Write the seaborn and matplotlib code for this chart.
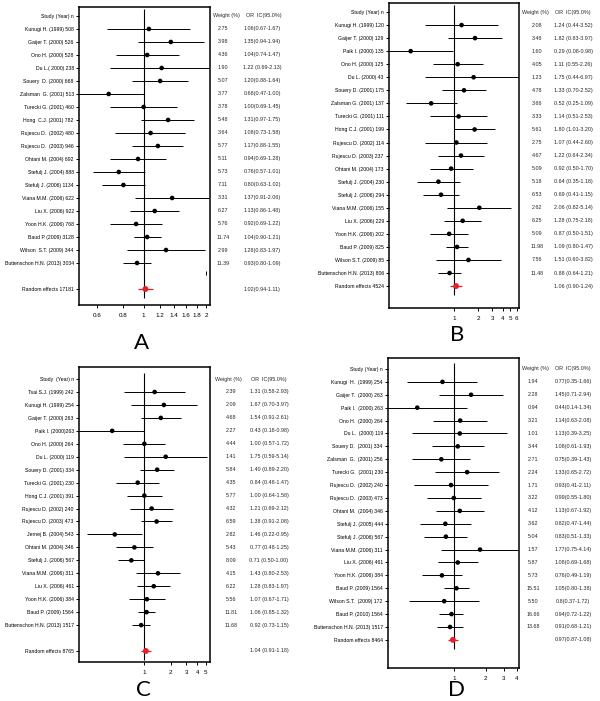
import pandas as pd
import matplotlib
matplotlib.use("Agg")
import matplotlib.pyplot as plt
import matplotlib.ticker as mticker
import matplotlib.transforms as mtrans
import seaborn as sns

sns.set_theme(style="ticks")
plt.rcParams['font.family'] = ['Liberation Sans', 'DejaVu Sans']

# ---------------- Panel A data ----------------
a_studies = ["Kunugi H. (1999) 508", "Gaijer T. (2000) 526", "Ono H. (2000) 528", "Du L.( 2000) 238",
             "Souery  D. (2000) 668", "Zalsman  G. (2001) 513", "Turecki G. (2001) 460", "Hong  C.J. (2001) 782",
             "Rujescu D.  (2002) 480", "Rujescu D.  (2003) 946", "Ohtani M. (2004) 692", "Stefulj J. (2004) 888",
             "Stefulj J. (2006) 1134", "Viana M.M. (2006) 622", "Liu X. (2006) 922", "Yoon H.K. (2006) 768",
             "Baud P (2009) 3128", "Wilson  S.T. (2009) 344", "Buttenschon H.N. (2013) 3034"]
a_weight = ["2.75", "3.98", "4.36", "1.90", "5.07", "3.77", "3.78", "5.48", "3.64", "5.77",
            "5.11", "5.73", "7.11", "3.31", "6.27", "5.76", "11.74", "2.99", "11.39"]
a_or = [1.06, 1.35, 1.04, 1.22, 1.20, 0.68, 1.00, 1.31, 1.08, 1.17, 0.94, 0.76, 0.80, 1.37, 1.13, 0.92, 1.04, 1.28, 0.93]
a_lo = [0.67, 0.94, 0.74, 0.69, 0.88, 0.47, 0.69, 0.97, 0.73, 0.88, 0.69, 0.57, 0.63, 0.91, 0.86, 0.69, 0.90, 0.83, 0.80]
a_hi = [1.67, 1.94, 1.47, 2.13, 1.64, 1.00, 1.45, 1.75, 1.58, 1.55, 1.28, 1.01, 1.02, 2.06, 1.48, 1.22, 1.21, 1.97, 1.09]
a_or_text = ["1.06(0.67-1.67)", "1.35(0.94-1.94)", "1.04(0.74-1.47)", "1.22 (0.69-2.13)", "1.20(0.88-1.64)",
             "0.68(0.47-1.00)", "1.00(0.69-1.45)", "1.31(0.97-1.75)", "1.08(0.73-1.58)", "1.17(0.88-1.55)",
             "0.94(0.69-1.28)", "0.76(0.57-1.01)", "0.80(0.63-1.02)", "1.37(0.91-2.06)", "1.13(0.86-1.48)",
             "0.92(0.69-1.22)", "1.04(0.90-1.21)", "1.28(0.83-1.97)", "0.93(0.80-1.09)"]
a_random = ["Random effects 17181", 1.02, 0.94, 1.11, "1.02(0.94-1.11)"]
a_ticks = [0.6, 0.8, 1, 1.2, 1.4, 1.6, 1.8, 2]
a_ticklabels = ["0.6", "0.8", "1", "1.2", "1.4", "1.6", "1.8", "2"]

# ---------------- Panel B data ----------------
b_studies = ["Kunugi H. (1999) 120", "Gaijer T. (2000) 129", "Paik I. (2000) 135", "Ono H. (2000) 125",
             "Du L. (2000) 43", "Souery D. (2001) 175", "Zalsman G. (2001) 137", "Turecki G. (2001) 111",
             "Hong C.J. (2001) 199", "Rujescu D. (2002) 114", "Rujescu D. (2003) 237", "Ohtani M. (2004) 173",
             "Stefulj J. (2004) 230", "Stefulj J. (2006) 294", "Viana M.M. (2006) 155", "Liu X. (2006) 229",
             "Yoon H.K. (2006) 202", "Baud P. (2009) 825", "Wilson S.T. (2009) 85", "Buttenschon H.N. (2013) 806"]
b_weight = ["2.08", "3.46", "1.60", "4.05", "1.23", "4.78", "3.66", "3.33", "5.61", "2.75",
            "4.67", "5.09", "5.18", "6.53", "2.62", "6.25", "5.09", "11.98", "7.56", "11.48"]
b_or = [1.24, 1.82, 0.29, 1.11, 1.75, 1.33, 0.52, 1.14, 1.80, 1.07, 1.22, 0.92, 0.64, 0.69, 2.06, 1.28, 0.87, 1.09, 1.51, 0.88]
b_lo = [0.44, 0.83, 0.08, 0.55, 0.44, 0.70, 0.25, 0.51, 1.01, 0.44, 0.64, 0.50, 0.35, 0.41, 0.82, 0.75, 0.50, 0.80, 0.60, 0.64]
b_hi = [3.52, 3.97, 0.98, 2.26, 6.97, 2.52, 1.09, 2.53, 3.20, 2.60, 2.34, 1.70, 1.18, 1.15, 5.14, 2.18, 1.51, 1.47, 3.82, 1.21]
b_or_text = ["1.24 (0.44-3.52)", "1.82 (0.83-3.97)", "0.29 (0.08-0.98)", "1.11 (0.55-2.26)", "1.75 (0.44-6.97)",
             "1.33 (0.70-2.52)", "0.52 (0.25-1.09)", "1.14 (0.51-2.53)", "1.80 (1.01-3.20)", "1.07 (0.44-2.60)",
             "1.22 (0.64-2.34)", "0.92 (0.50-1.70)", "0.64 (0.35-1.18)", "0.69 (0.41-1.15)", "2.06 (0.82-5.14)",
             "1.28 (0.75-2.18)", "0.87 (0.50-1.51)", "1.09 (0.80-1.47)", "1.51 (0.60-3.82)", "0.88 (0.64-1.21)"]
b_random = ["Random effects 4524", 1.06, 0.90, 1.24, "1.06 (0.90-1.24)"]
b_ticks = [1, 2, 3, 4, 5, 6]
b_ticklabels = ["1", "2", "3", "4", "5", "6"]

# ---------------- Panel C data ----------------
c_studies = ["Tsai S.J. (1999) 242", "Kunugi H. (1999) 254", "Gaijer T. (2000) 263", "Paik I. (2000)263",
             "Ono H. (2000) 264", "Du L. (2000) 119", "Souery D. (2001) 334", "Turecki G. (2001) 230",
             "Hong C.J. (2001) 391", "Rujescu D. (2002) 240", "Rujescu D. (2003) 473", "Jernej B. (2004) 543",
             "Ohtani M. (2004) 346", "Stefulj J. (2006) 567", "Viana M.M. (2006) 311", "Liu X. (2006) 461",
             "Yoon H.K. (2006) 384", "Baud P. (2009) 1564", "Buttenschon H.N. (2013) 1517"]
c_weight = ["2.39", "2.09", "4.68", "2.27", "4.44", "1.41", "5.84", "4.35", "5.77", "4.32",
            "6.59", "2.82", "5.43", "8.09", "4.15", "6.22", "5.56", "11.81", "11.68"]
c_or = [1.31, 1.67, 1.54, 0.43, 1.00, 1.75, 1.40, 0.84, 1.00, 1.21, 1.38, 0.46, 0.77, 0.71, 1.43, 1.28, 1.07, 1.06, 0.92]
c_lo = [0.58, 0.70, 0.91, 0.18, 0.57, 0.59, 0.89, 0.48, 0.64, 0.69, 0.91, 0.22, 0.48, 0.50, 0.80, 0.83, 0.67, 0.85, 0.73]
c_hi = [2.93, 3.97, 2.61, 0.98, 1.72, 5.14, 2.20, 1.47, 1.58, 2.12, 2.08, 0.95, 1.25, 1.00, 2.53, 1.97, 1.71, 1.32, 1.15]
c_or_text = ["1.31 (0.58-2.93)", "1.67 (0.70-3.97)", "1.54 (0.91-2.61)", "0.43 (0.18-0.98)", "1.00 (0.57-1.72)",
             "1.75 (0.59-5.14)", "1.40 (0.89-2.20)", "0.84 (0.48-1.47)", "1.00 (0.64-1.58)", "1.21 (0.69-2.12)",
             "1.38 (0.91-2.08)", "1.46 (0.22-0.95)", "0.77 (0.48-1.25)", "0.71 (0.50-1.00)", "1.43 (0.80-2.53)",
             "1.28 (0.83-1.97)", "1.07 (0.67-1.71)", "1.06 (0.85-1.32)", "0.92 (0.73-1.15)"]
c_random = ["Random effects 8765", 1.04, 0.91, 1.18, "1.04 (0.91-1.18)"]
c_ticks = [1, 2, 3, 4, 5]
c_ticklabels = ["1", "2", "3", "4", "5"]

# ---------------- Panel D data ----------------
d_studies = ["Kunugi  H.  (1999) 254", "Gaijer T.  (2000) 263", "Paik I.  (2000) 263", "Ono H.  (2000) 264",
             "Du L.  (2000) 119", "Souery D.  (2001) 334", "Zalsman  G.  (2001) 256", "Turecki G.  (2001) 230",
             "Rujescu D.  (2002) 240", "Rujescu D.  (2003) 473", "Ohtani M.  (2004) 346", "Stefulj J. (2005) 444",
             "Stefulj J. (2006) 567", "Viana M.M. (2006) 311", "Liu X. (2006) 461", "Yoon H.K. (2006) 384",
             "Baud P. (2009) 1564", "Wilson S.T.  (2009) 172", "Baud P. (2010) 1564", "Buttenschon H.N. (2013) 1517"]
d_weight = ["1.94", "2.28", "0.94", "3.21", "1.01", "3.44", "2.71", "2.24", "1.71", "3.22",
            "4.12", "3.62", "5.04", "1.57", "5.87", "5.73", "15.51", "5.50", "16.66", "13.68"]
d_or = [0.77, 1.45, 0.44, 1.14, 1.13, 1.08, 0.75, 1.33, 0.93, 0.99, 1.13, 0.82, 0.83, 1.77, 1.08, 0.76, 1.05, 0.80, 0.94, 0.91]
d_lo = [0.35, 0.71, 0.14, 0.63, 0.39, 0.61, 0.39, 0.65, 0.41, 0.55, 0.67, 0.47, 0.51, 0.75, 0.69, 0.49, 0.80, 0.37, 0.72, 0.68]
d_hi = [1.66, 2.94, 1.34, 2.08, 3.25, 1.93, 1.43, 2.72, 2.11, 1.80, 1.92, 1.44, 1.33, 4.14, 1.68, 1.19, 1.38, 1.72, 1.22, 1.21]
d_or_text = ["0.77(0.35-1.66)", "1.45(0.71-2.94)", "0.44(0.14-1.34)", "1.14(0.63-2.08)", "1.13(0.39-3.25)",
             "1.08(0.61-1.93)", "0.75(0.39-1.43)", "1.33(0.65-2.72)", "0.93(0.41-2.11)", "0.99(0.55-1.80)",
             "1.13(0.67-1.92)", "0.82(0.47-1.44)", "0.83(0.51-1.33)", "1.77(0.75-4.14)", "1.08(0.69-1.68)",
             "0.76(0.49-1.19)", "1.05(0.80-1.38)", "0.8(0.37-1.72)", "0.94(0.72-1.22)", "0.91(0.68-1.21)"]
d_random = ["Random effects 8464", 0.97, 0.87, 1.08, "0.97(0.87-1.08)"]
d_ticks = [1, 2, 3, 4]
d_ticklabels = ["1", "2", "3", "4"]

W, H = 600, 701
fig = plt.figure(figsize=(W / 100, H / 100), dpi=100)


def px_axes(x0, y0, x1, y1):
    return fig.add_axes([x0 / W, 1 - y1 / H, (x1 - x0) / W, (y1 - y0) / H])


def forest(box, studies, weight, ors, lo, hi, or_text, random, ticks, ticklabels,
           xlim, ylim, cols, letter, letter_xy, header="Study (Year) n"):
    ax = px_axes(*box)
    rows = list(range(1, len(studies) + 1))
    rrow = 21
    df = pd.DataFrame({"row": rows, "OR": ors, "lo": lo, "hi": hi})

    ax.set_xscale("log")
    # reference line at OR = 1, spanning the study rows only
    ax.vlines([1], -0.5, rrow + 0.7, color="black", lw=0.8, zorder=1)
    ax.hlines(df["row"], df["lo"], df["hi"], color="black", lw=0.7, zorder=2)
    sns.scatterplot(data=df, x="OR", y="row", color="black", s=11, edgecolor="none",
                    ax=ax, zorder=3, legend=False)
    rdf = pd.DataFrame({"row": [rrow], "OR": [random[1]]})
    ax.hlines([rrow], [random[2]], [random[3]], color="#e8202a", lw=0.9, zorder=2)
    sns.scatterplot(data=rdf, x="OR", y="row", color="#e8202a", s=18, marker="o",
                    edgecolor="none", ax=ax, zorder=3, legend=False)

    ax.set_xlim(*xlim)
    ax.set_ylim(*ylim)
    ax.xaxis.set_major_locator(mticker.FixedLocator(ticks))
    ax.xaxis.set_minor_locator(mticker.NullLocator())
    ax.set_xticklabels(ticklabels)
    ax.set_yticks([0] + rows + [rrow])
    ax.set_yticklabels([header] + studies + [random[0]])
    ax.tick_params(axis="both", direction="out", length=2.5, width=0.7, labelsize=3.7,
                   pad=1.2, colors="black")
    ax.tick_params(axis="x", labelsize=4.5, pad=3)
    ax.set_xlabel("")
    ax.set_ylabel("")
    for s in ax.spines.values():
        s.set_visible(True)
        s.set_linewidth(1.1)
        s.set_color("black")
    ax.set_facecolor("white")

    tr = mtrans.blended_transform_factory(fig.transFigure, ax.transData)
    wh, wv, oh, ov = cols
    ax.text(wh / W, 0, "Weight (%)", transform=tr, ha="center", va="center", fontsize=3.9)
    ax.text(oh / W, 0, "OR  IC(95.0%)", transform=tr, ha="center", va="center", fontsize=3.9)
    for r, w, t in zip(rows, weight, or_text):
        ax.text(wv / W, r, w, transform=tr, ha="center", va="center", fontsize=3.9)
        ax.text(ov / W, r, t, transform=tr, ha="center", va="center", fontsize=3.9)
    ax.text(ov / W, rrow, random[4], transform=tr, ha="center", va="center", fontsize=3.9)

    fig.text(letter_xy[0] / W, 1 - letter_xy[1] / H, letter, ha="center", va="center",
             fontsize=16, family=["Lato", "DejaVu Sans"], color="black")
    return ax


ax_a = forest((79, 7, 210, 305), a_studies, a_weight, a_or, a_lo, a_hi, a_or_text, a_random,
              a_ticks, a_ticklabels, (0.49, 2.08), (22.23, -0.69), (226, 223, 264, 262), "A", (141, 343))
ax_a.plot([1.99], [19.77], marker="|", color="black", ms=3, mew=0.7)

forest((389, 3, 519, 308), b_studies, b_weight, b_or, b_lo, b_hi, b_or_text, b_random,
       b_ticks, b_ticklabels, (0.156, 6.4), (22.68, -0.69), (535, 537, 573, 573), "B", (457, 335))

forest((79, 367, 210, 662), c_studies, c_weight, c_or, c_lo, c_hi, c_or_text, c_random,
       c_ticks, c_ticklabels, (0.18, 5.6), (21.85, -0.93), (228, 231, 269, 269), "C", (143, 690),
       header="Study  (Year) n")

forest((388, 358, 519, 668), d_studies, d_weight, d_or, d_lo, d_hi, d_or_text, d_random,
       d_ticks, d_ticklabels, (0.23, 4.2), (23.18, -0.85), (535, 533, 573, 573), "D", (457, 690))

fig.savefig("out.png", dpi=100, facecolor="white")
